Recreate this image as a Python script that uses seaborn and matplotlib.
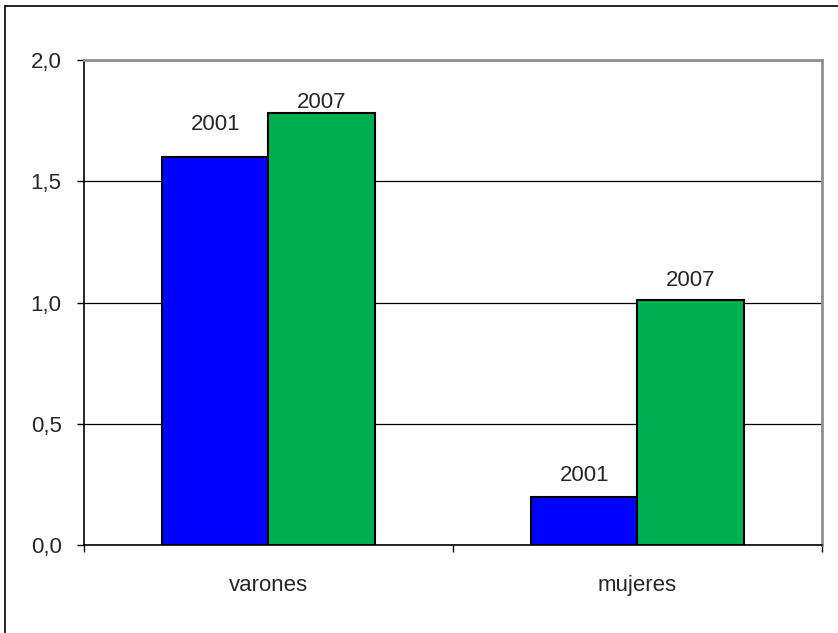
import numpy as np
import pandas as pd
import matplotlib.pyplot as plt
import seaborn as sns
from matplotlib.lines import Line2D

sns.set_theme(style="white")
plt.rcParams["font.family"] = ["Liberation Sans", "DejaVu Sans"]

categorias = ["varones", "mujeres"]
anios = ["2001", "2007"]
valores_2001 = [1.60, 0.20]
valores_2007 = [1.78, 1.01]

df = pd.DataFrame({
    "grupo": categorias * 2,
    "anio": [anios[0]] * 2 + [anios[1]] * 2,
    "valor": valores_2001 + valores_2007,
})

fig = plt.figure(figsize=(8.38, 6.33), dpi=100)
ax = fig.add_axes([0.1002, 0.139, 0.8807, 0.7662])

sns.barplot(data=df, x="grupo", y="valor", hue="anio", order=categorias, hue_order=anios,
            palette=["#0000FF", "#00B050"], width=0.575, gap=0, edgecolor="black",
            linewidth=1.5, saturation=1, legend=False, ax=ax, zorder=3)

ax.set_ylim(0, 2.0)
ax.set_xlim(-0.5, 1.5)
ax.set_yticks([0, 0.5, 1.0, 1.5, 2.0])
ax.set_yticklabels(["0,0", "0,5", "1,0", "1,5", "2,0"], fontsize=16)
ax.yaxis.grid(True, color="black", linewidth=0.9, zorder=0)
ax.set_axisbelow(True)
ax.set_xlabel("")
ax.set_ylabel("")

# ticks de categoria en los bordes
ax.set_xticks([-0.5, 0.5, 1.5])
ax.set_xticklabels([])
ax.set_xticks([0, 1], minor=True)
ax.set_xticklabels(categorias, minor=True, fontsize=16)
ax.tick_params(axis="x", which="major", direction="out", length=5, width=1, color="black", bottom=True)
ax.tick_params(axis="x", which="minor", length=0, pad=21.5)
ax.tick_params(axis="y", direction="out", length=5, width=1, color="black", left=True, pad=11)

for lado in ["left", "bottom"]:
    ax.spines[lado].set_color("black")
    ax.spines[lado].set_linewidth(1.2)
for lado in ["top", "right"]:
    ax.spines[lado].set_color("#909090")
    ax.spines[lado].set_linewidth(2)

# etiquetas con el año sobre cada barra (desplazamiento en pixeles)
desplazamientos = [[33, 21], [11, 20]]
for i, contenedor in enumerate(ax.containers):
    for j, barra in enumerate(contenedor):
        x = barra.get_x() + barra.get_width() / 2
        ax.annotate(anios[i], (x, barra.get_height()), xytext=(0, desplazamientos[i][j]),
                    textcoords="offset pixels", ha="center", va="center", fontsize=16)

# marco exterior
fig.add_artist(Line2D([5 / 838, 5 / 838], [0, 1 - 6 / 633], transform=fig.transFigure,
                      color="black", linewidth=1.2))
fig.add_artist(Line2D([5 / 838, 1], [1 - 6 / 633, 1 - 6 / 633], transform=fig.transFigure,
                      color="black", linewidth=1.2))

fig.savefig("out.png", dpi=100)
